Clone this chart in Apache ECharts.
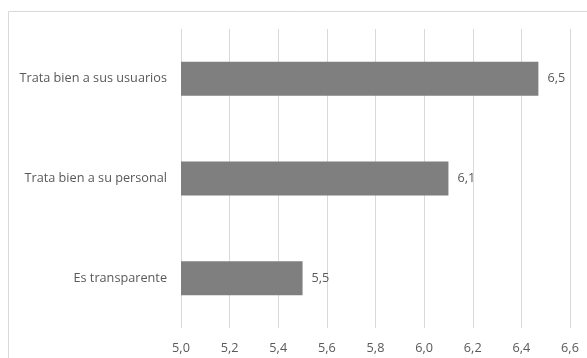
<!DOCTYPE html>
<html>
<head>
<meta charset="utf-8">
<script src="https://cdn.jsdelivr.net/npm/echarts@6/dist/echarts.min.js"></script>
<style>
html,body{margin:0;padding:0;background:#fff;}
#chart{width:587px;height:358px;}
</style>
</head>
<body>
<div id="chart"></div>
<script>
var categories = ['Trata bien a sus usuarios', 'Trata bien a su personal', 'Es transparente'];
var values = [6.47, 6.1, 5.5];
var xTicks = ['5,0','5,2','5,4','5,6','5,8','6,0','6,2','6,4','6,6'];

var FONT = '"Open Sans", "Liberation Sans", sans-serif';
var chart = echarts.init(document.getElementById('chart'), null, {renderer: 'canvas'});
chart.setOption({
  animation: false,
  backgroundColor: '#fff',
  graphic: [{
    type: 'rect',
    shape: {x: 8.5, y: 11.5, width: 700, height: 500},
    style: {fill: 'none', stroke: '#d9d9d9', lineWidth: 1},
    silent: true
  }],
  grid: {left: 181, right: 17, top: 29, bottom: 30, containLabel: false},
  xAxis: {
    type: 'value',
    min: 5.0,
    max: 6.6,
    interval: 0.2,
    axisLine: {show: false},
    axisTick: {show: false},
    splitLine: {show: true, lineStyle: {color: '#d9d9d9', width: 1}},
    axisLabel: {
      color: '#595959',
      fontFamily: FONT,
      fontSize: 12.7,
      margin: 14,
      formatter: function (v) {
        var idx = Math.round((v - 5.0) / 0.2);
        return xTicks[idx] !== undefined ? xTicks[idx] : '';
      }
    }
  },
  yAxis: {
    type: 'category',
    inverse: true,
    data: categories,
    axisLine: {show: false},
    axisTick: {show: false},
    splitLine: {show: false},
    axisLabel: {color: '#595959', fontFamily: FONT, fontSize: 12.7, margin: 14}
  },
  series: [{
    type: 'bar',
    data: values,
    barWidth: 34,
    itemStyle: {color: '#7f7f7f'},
    label: {
      show: true,
      position: 'right',
      distance: 9,
      color: '#595959',
      fontFamily: FONT,
      fontSize: 12.7,
      formatter: function (p) { return p.value.toFixed(1).replace('.', ','); }
    }
  }]
});
</script>
</body>
</html>
